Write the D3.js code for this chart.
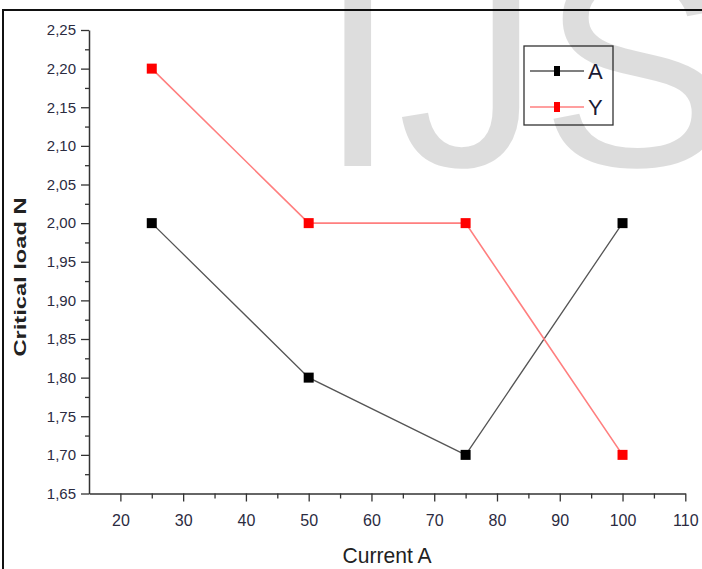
<!DOCTYPE html>
<html>
<head>
<meta charset="utf-8">
<script src="https://cdn.jsdelivr.net/npm/d3@7"></script>
<style>
  body { margin: 0; background: #fff; }
  svg { display: block; font-family: "Liberation Sans", Arial, sans-serif; }
</style>
</head>
<body>
<div id="chart"></div>
<script>
// ---- data ----
const current = [25, 50, 75, 100];
const seriesA = [2.00, 1.80, 1.70, 2.00];
const seriesY = [2.20, 2.00, 2.00, 1.70];
const xTicks = [20, 30, 40, 50, 60, 70, 80, 90, 100, 110];
const yTicks = [1.65, 1.70, 1.75, 1.80, 1.85, 1.90, 1.95, 2.00, 2.05, 2.10, 2.15, 2.20, 2.25];

const series = [
  { name: "A", values: seriesA, line: "#555", mark: "#000", width: 1.3 },
  { name: "Y", values: seriesY, line: "#ff7f7f", mark: "#ff0000", width: 1.6 }
];

const W = 702, H = 569;
const svg = d3.select("#chart").append("svg")
  .attr("width", W).attr("height", H);

// frame lines (top and left)
svg.append("line").attr("x1", 2).attr("x2", W).attr("y1", 10).attr("y2", 10)
  .attr("stroke", "#111").attr("stroke-width", 2);
svg.append("line").attr("x1", 3).attr("x2", 3).attr("y1", 9).attr("y2", H)
  .attr("stroke", "#111").attr("stroke-width", 2);

// scales
const x = d3.scaleLinear().domain([15, 110]).range([89, 685.3]);
const y = d3.scaleLinear().domain([1.65, 2.25]).range([493.5, 30]);

const comma = d => d3.format(".2f")(d).replace(".", ",");
const labelColor = "#2b2b3f";

// y axis (minor ticks first, then major)
svg.append("g").attr("transform", "translate(89,0)")
  .call(d3.axisLeft(y).tickValues(d3.range(1.675, 2.25, 0.05)).tickSize(4).tickFormat(""))
  .call(g => g.select(".domain").remove())
  .call(g => g.selectAll("line").attr("stroke", "#333").attr("stroke-width", 1.3));
svg.append("g").attr("transform", "translate(89,0)")
  .call(d3.axisLeft(y).tickValues(yTicks).tickSize(8).tickSizeOuter(0).tickPadding(5).tickFormat(comma))
  .call(g => g.select(".domain").attr("stroke", "#333").attr("stroke-width", 1.5))
  .call(g => g.selectAll("line").attr("stroke", "#333").attr("stroke-width", 1.3))
  .call(g => g.selectAll("text").attr("fill", labelColor).style("font-size", "15px")
    .style("font-family", "'Liberation Sans', Arial, sans-serif"));

// x axis
svg.append("g").attr("transform", "translate(0,493.5)")
  .call(d3.axisBottom(x).tickValues(d3.range(25, 110, 10)).tickSize(5).tickFormat(""))
  .call(g => g.select(".domain").remove())
  .call(g => g.selectAll("line").attr("stroke", "#333").attr("stroke-width", 1.3));
svg.append("g").attr("transform", "translate(0,493.5)")
  .call(d3.axisBottom(x).tickValues(xTicks).tickSize(8).tickSizeOuter(0).tickPadding(13))
  .call(g => g.select(".domain").attr("stroke", "#333").attr("stroke-width", 1.5))
  .call(g => g.selectAll("line").attr("stroke", "#333").attr("stroke-width", 1.3))
  .call(g => g.selectAll("text").attr("fill", labelColor).style("font-size", "16px")
    .style("font-family", "'Liberation Sans', Arial, sans-serif"));

// axis titles
svg.append("text")
  .attr("transform", "translate(26,277) rotate(-90)")
  .attr("text-anchor", "middle")
  .attr("textLength", 159).attr("lengthAdjust", "spacingAndGlyphs")
  .style("font-size", "17px").style("font-weight", "bold").attr("fill", "#222")
  .text("Critical load N");
svg.append("text")
  .attr("x", 387).attr("y", 563)
  .attr("text-anchor", "middle")
  .attr("textLength", 89).attr("lengthAdjust", "spacingAndGlyphs")
  .style("font-size", "22px").attr("fill", "#222")
  .text("Current A");

// lines and markers
const line = d3.line().x(d => x(d[0])).y(d => y(d[1]));
series.forEach(s => {
  const pts = current.map((c, i) => [c, s.values[i]]);
  svg.append("path").datum(pts)
    .attr("fill", "none").attr("stroke", s.line).attr("stroke-width", s.width)
    .attr("d", line);
  svg.selectAll(null).data(pts).enter().append("rect")
    .attr("x", d => x(d[0]) - 5).attr("y", d => y(d[1]) - 5)
    .attr("width", 10).attr("height", 10).attr("fill", s.mark);
});

// legend
const legend = svg.append("g").attr("transform", "translate(524,46)");
legend.append("rect").attr("width", 89).attr("height", 79)
  .attr("fill", "#fff").attr("stroke", "#333").attr("stroke-width", 1.3);
series.forEach((s, i) => {
  const row = legend.append("g").attr("transform", `translate(0,${25 + i * 36})`);
  row.append("line").attr("x1", 6).attr("x2", 60).attr("y1", 0).attr("y2", 0)
    .attr("stroke", s.line).attr("stroke-width", s.width);
  row.append("rect").attr("x", 30).attr("y", -5).attr("width", 6).attr("height", 10)
    .attr("fill", s.mark);
  row.append("text").attr("x", 64).attr("y", 8)
    .style("font-size", "22px").attr("fill", "#1a1a33").text(s.name);
});

// watermark
svg.append("text")
  .attr("x", 318).attr("y", 166)
  .style("font-size", "286px")
  .attr("fill", "#000").attr("fill-opacity", 0.135)
  .text("IJS");
</script>
</body>
</html>
